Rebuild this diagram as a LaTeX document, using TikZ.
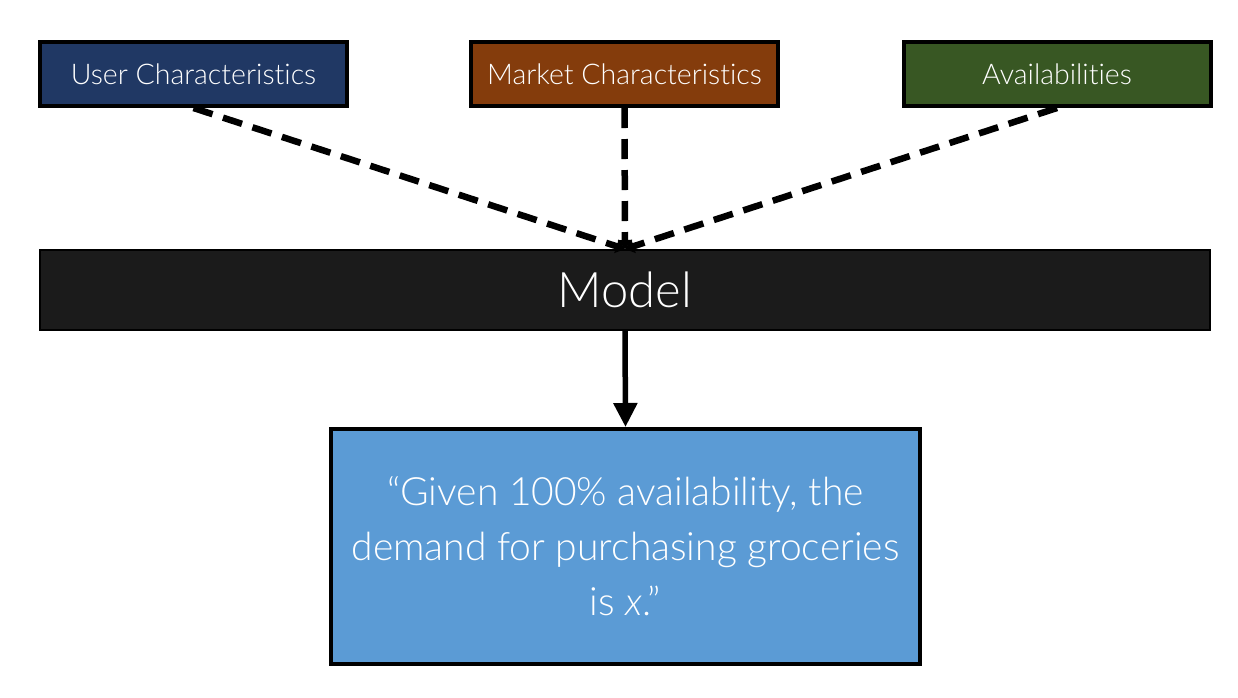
\documentclass[tikz,border=0pt]{standalone}
\usepackage{fontspec}
\setmainfont{Lato}[UprightFont=* Light, ItalicFont=* Light Italic, Ligatures={TeX,NoCommon}]
\usetikzlibrary{arrows.meta}
\definecolor{navy}{HTML}{203864}
\definecolor{rust}{HTML}{843C0C}
\definecolor{forest}{HTML}{385723}
\definecolor{modelbg}{HTML}{1B1B1B}
\definecolor{outbg}{HTML}{5B9BD5}
\tikzset{
  topbox/.style={draw=black, line width=4pt, minimum width=307pt, minimum height=64pt, inner sep=0pt, text=white, font=\fontsize{28.5}{32}\selectfont},
  modelbox/.style={draw=black, fill=modelbg, line width=2pt, minimum width=1170pt, minimum height=80pt, inner sep=0pt, text=white, font=\fontsize{49}{58}\selectfont},
  outbox/.style={draw=black, fill=outbg, line width=4pt, minimum width=589pt, minimum height=235pt, inner sep=0pt, text=white, align=center, font=\fontsize{39}{55}\selectfont},
  dashlink/.style={line width=6.5pt, dash pattern=on 20pt off 11pt, -{Triangle[length=9pt,width=14pt]}},
  solidlink/.style={line width=5.5pt, -{Triangle[length=24pt,width=23pt]}}
}
\begin{document}
\begin{tikzpicture}[x=1pt,y=-1pt]
\useasboundingbox (0,0) rectangle (1238,697);
\node[topbox, fill=navy] (u) at (193.5,74) {User Characteristics};
\node[topbox, fill=rust] (mk) at (624.5,74) {Market Characteristics};
\node[topbox, fill=forest] (av) at (1057,74) {Availabilities};
\node[modelbox] (m) at (625,290) {Model};
\node[outbox] (o) at (625.5,546.5) {``Given 100\% availability, the\\demand for purchasing groceries\\is \textit{x}.''};
\draw[dashlink] (u.south) -- (m.north);
\draw[dashlink] (mk.south) -- (m.north);
\draw[dashlink] (av.south) -- (m.north);
\draw[solidlink] (m.south) -- (o.north);
\end{tikzpicture}
\end{document}
